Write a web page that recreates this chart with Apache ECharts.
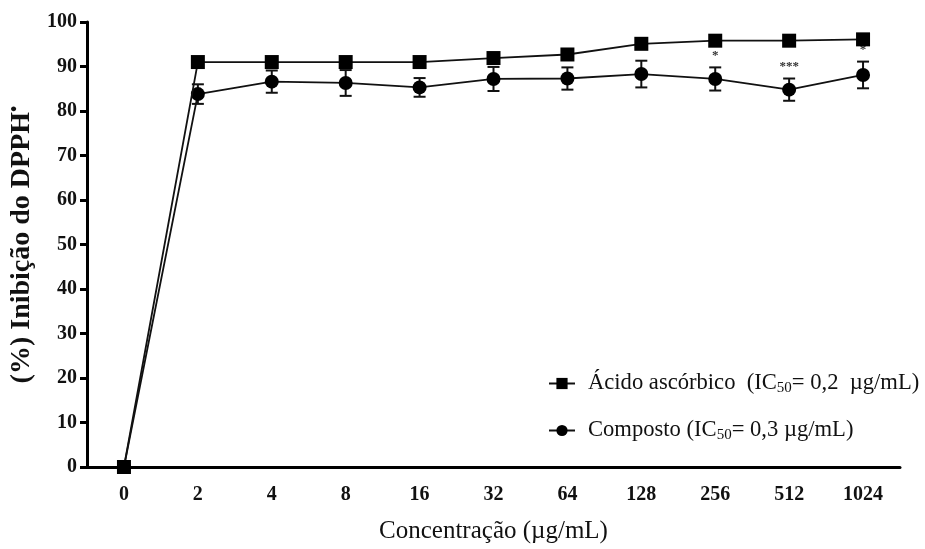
<!DOCTYPE html>
<html><head><meta charset="utf-8">
<script src="https://cdn.jsdelivr.net/npm/echarts@6/dist/echarts.min.js"></script>
<style>html,body{margin:0;padding:0;background:#fff}#c{width:925px;height:549px}</style>
</head><body><div id="c"></div>
<script>
// Data
const categories = ['0','2','4','8','16','32','64','128','256','512','1024'];
const acidValues = [0, 91.0, 91.0, 91.0, 91.0, 91.9, 92.7, 95.1, 95.8, 95.8, 96.1];
const acidErrors = [0, 0.4, 0.4, 0.4, 0.4, 0.5, 0.6, 0.6, 0.5, 0.5, 1.0];
const compValues = [0, 83.8, 86.6, 86.3, 85.3, 87.2, 87.3, 88.3, 87.2, 84.8, 88.1];
const compErrors = [0, 2.2, 2.5, 2.9, 2.1, 2.7, 2.5, 3.0, 2.6, 2.5, 3.0];
const compSignif = ['', '', '', '', '', '', '', '', '*', '***', '*'];
const seriesNames = ['Ácido ascórbico', 'Composto'];

const SERIF = '"Liberation Serif", "DejaVu Serif", serif';
const chart = echarts.init(document.getElementById('c'));

function errData(vals, errs, sig) {
  return vals.map((v, i) => [i, v, errs[i], sig ? sig[i] : '']);
}
function errRender(params, api) {
  const x = api.value(0), v = api.value(1), e = api.value(2);
  const sig = api.value(3);
  const top = api.coord([x, v + e]);
  const bot = api.coord([x, v - e]);
  const children = [];
  if (e > 0) {
    const st = { stroke: '#111', lineWidth: 2 };
    children.push({ type: 'line', shape: { x1: top[0], y1: top[1], x2: bot[0], y2: bot[1] }, style: st });
    children.push({ type: 'line', shape: { x1: top[0] - 6, y1: top[1], x2: top[0] + 6, y2: top[1] }, style: st });
    children.push({ type: 'line', shape: { x1: bot[0] - 6, y1: bot[1], x2: bot[0] + 6, y2: bot[1] }, style: st });
  }
  if (sig && sig !== '') {
    children.push({ type: 'text', style: { text: sig, x: top[0], y: top[1] - 5, align: 'center', verticalAlign: 'bottom', font: 'bold 13px ' + SERIF, fill: '#333' } });
  }
  return { type: 'group', children };
}

const richLegend = {
  n: { fontFamily: SERIF, fontSize: 22.6, color: '#111' },
  sub: { fontFamily: SERIF, fontSize: 15, color: '#111', padding: [10, 0, 0, 0] }
};

chart.setOption({
  animation: false,
  backgroundColor: '#fff',
  grid: { left: 87, right: 25, top: 22, bottom: 82, outerBoundsMode: 'none', containLabel: false },
  legend: {
    orient: 'vertical',
    left: 543,
    top: 367,
    itemGap: 23,
    itemWidth: 26,
    itemHeight: 14,
    data: seriesNames,
    formatter: function (name) {
      if (name === seriesNames[0]) return '{n|' + name + '  (IC}{sub|50}{n|= 0,2  µg/mL)}';
      return '{n|' + name + ' (IC}{sub|50}{n|= 0,3 µg/mL)}';
    },
    textStyle: { rich: richLegend, padding: [0, 0, 0, 8] }
  },
  xAxis: {
    type: 'category',
    data: categories,
    boundaryGap: true,
    name: 'Concentração (µg/mL)',
    nameLocation: 'middle',
    nameGap: 52,
    nameTextStyle: { fontFamily: SERIF, fontSize: 25, color: '#111' },
    axisLine: { lineStyle: { color: '#000', width: 3 } },
    axisTick: { alignWithLabel: true, length: 8, lineStyle: { color: '#000', width: 3 } },
    axisLabel: { fontFamily: SERIF, fontWeight: 'bold', fontSize: 20, color: '#111', margin: 18 },
    splitLine: { show: false }
  },
  yAxis: {
    type: 'value',
    min: 0, max: 100, interval: 10,
    name: '{n|(%) Inibição do DPPH}{s|•}',
    nameLocation: 'middle',
    nameGap: 46,
    nameTextStyle: {
      rich: {
        n: { fontFamily: SERIF, fontWeight: 'bold', fontSize: 28, color: '#111' },
        s: { fontFamily: SERIF, fontWeight: 'bold', fontSize: 18, color: '#111', padding: [0, 0, 14, 0] }
      }
    },
    axisLine: { show: true, lineStyle: { color: '#000', width: 3 } },
    axisTick: { show: true, length: 7, lineStyle: { color: '#000', width: 3 } },
    axisLabel: { fontFamily: SERIF, fontWeight: 'bold', fontSize: 20, color: '#111', margin: 10 },
    splitLine: { show: false }
  },
  series: [
    {
      name: 'comp_err', type: 'custom', renderItem: errRender,
      data: errData(compValues, compErrors, compSignif), z: 2, silent: true,
      encode: { x: 0, y: 1 }
    },
    {
      name: 'acid_err', type: 'custom', renderItem: errRender,
      data: errData(acidValues, acidErrors, null), z: 2, silent: true,
      encode: { x: 0, y: 1 }
    },
    {
      name: seriesNames[1], type: 'line', data: compValues,
      symbol: 'circle', symbolSize: 14,
      lineStyle: { color: '#111', width: 1.8 },
      itemStyle: { color: '#000' }, z: 3
    },
    {
      name: seriesNames[0], type: 'line', data: acidValues,
      symbol: 'rect', symbolSize: 14,
      lineStyle: { color: '#111', width: 1.8 },
      itemStyle: { color: '#000' }, z: 4
    }
  ]
});
</script>
</body></html>
